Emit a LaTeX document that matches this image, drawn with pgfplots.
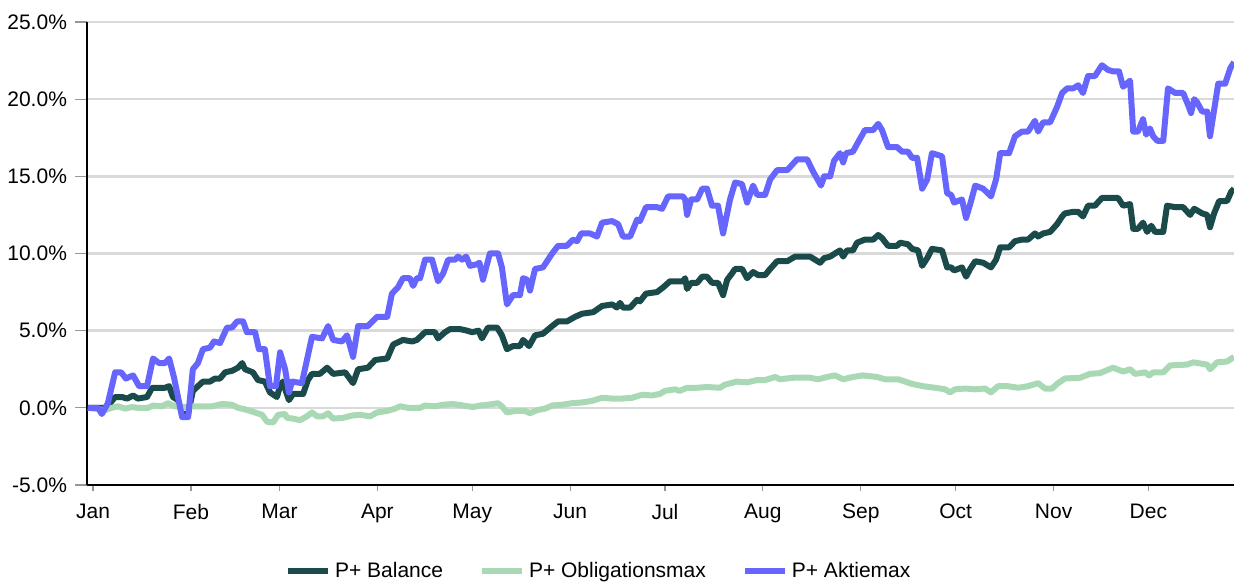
\documentclass[border=0pt]{standalone}
\usepackage{fontspec}
\setmainfont{Liberation Sans}
\usepackage{pgfplots}
\usepackage{pgfplotstable}
\pgfplotsset{compat=1.18}
\definecolor{cBal}{RGB}{26,74,74}
\definecolor{cObl}{RGB}{168,216,180}
\definecolor{cAkt}{RGB}{102,102,255}
\definecolor{cGrid}{RGB}{217,217,217}
\definecolor{cTick}{RGB}{150,150,150}

\pgfplotstableread{
day val
-1.6 0
3.8 0
5.4 0.3
7.0 0.7
9.2 0.7
10.8 0.6
12.7 0.8
14.2 0.6
17.1 0.7
18.7 1.3
22.8 1.3
24.1 1.4
25.3 0.7
26.9 0.5
28.2 -0.4
30.1 -0.4
31.6 1.1
33.2 1.4
34.8 1.7
37.0 1.7
38.6 1.9
40.2 1.9
41.8 2.3
44.0 2.4
45.9 2.6
47.2 2.9
48.1 2.5
50.6 2.3
52.2 1.8
54.4 1.7
56.0 1.0
58.2 0.7
58.9 1.2
60.0 1.7
62.0 0.5
63.3 0.9
66.5 0.9
68.0 1.8
69.3 2.2
71.8 2.2
74.1 2.6
76.0 2.2
79.8 2.3
82.3 1.6
83.9 2.5
87.0 2.6
89.3 3.1
93.1 3.2
95.0 4.1
98.1 4.4
101.0 4.3
102.5 4.4
105.1 4.9
108.2 4.9
109.2 4.5
111.4 4.9
113.0 5.1
116.2 5.1
118.4 5.0
120.0 4.9
122.0 5.0
123.1 4.5
125.0 5.2
127.9 5.2
129.4 4.7
131.0 3.8
132.9 4.0
135.1 4.0
136.1 4.4
138.0 4.0
139.9 4.7
142.4 4.8
145.3 5.3
147.2 5.6
150.0 5.6
152.6 5.9
154.8 6.1
158.3 6.2
161.1 6.6
164.3 6.7
165.8 6.5
166.8 6.8
167.7 6.5
170.0 6.5
172.2 7.0
173.1 6.9
175.0 7.4
178.5 7.5
180.4 7.8
182.6 8.2
186.7 8.2
187.4 8.4
188.0 7.7
189.3 8.1
191.2 8.1
192.8 8.5
194.3 8.5
195.9 8.1
197.8 8.1
199.4 7.3
200.7 8.3
202.2 8.7
203.2 9.0
205.4 9.0
207.0 8.4
208.9 8.8
210.5 8.6
212.7 8.6
214.3 9.0
216.5 9.5
219.7 9.5
222.2 9.8
226.9 9.8
228.5 9.6
230.1 9.4
231.4 9.7
233.3 9.8
234.8 10.0
236.4 10.2
237.4 9.8
238.6 10.2
240.5 10.2
241.8 10.7
244.3 10.9
246.9 10.9
248.5 11.2
249.7 11.0
251.6 10.5
254.5 10.5
255.4 10.7
257.9 10.6
259.2 10.3
261.1 10.2
262.4 9.2
264.0 9.7
265.5 10.3
268.7 10.2
270.3 9.1
271.6 9.1
272.5 8.9
275.0 9.1
276.3 8.5
277.6 9.0
279.2 9.5
281.7 9.4
284.2 9.1
285.8 9.6
287.1 10.4
289.9 10.4
291.8 10.8
294.0 10.9
295.9 10.9
298.1 11.3
299.1 11.1
300.7 11.3
302.9 11.4
305.1 11.9
306.7 12.4
307.6 12.6
310.2 12.7
311.8 12.7
313.3 12.4
314.9 13.1
317.1 13.1
319.3 13.6
324.4 13.6
326.0 13.1
328.2 13.2
329.2 11.6
330.7 11.6
332.3 12.0
333.6 11.4
334.9 11.8
336.1 11.4
338.7 11.4
339.9 13.1
342.5 13.0
345.0 13.0
347.2 12.5
348.5 12.9
351.0 12.6
352.6 12.5
353.5 11.7
354.8 12.6
356.4 13.4
358.9 13.4
360.2 14.0
361.1 14.2
}\balance

\pgfplotstableread{
day val
-1.6 0
3.8 -0.15
6.0 0
7.9 0.1
10.1 -0.05
12.3 0.05
14.2 0
17.4 0
19.0 0.15
21.8 0.1
23.7 0.3
26.0 0.1
29.1 0.05
32.3 0.1
37.7 0.1
40.8 0.25
44.0 0.2
45.9 0
48.1 -0.1
51.3 -0.3
53.5 -0.45
55.1 -0.9
57.0 -0.95
58.6 -0.45
60.8 -0.4
61.4 -0.65
63.3 -0.7
65.5 -0.8
67.7 -0.55
69.3 -0.3
70.9 -0.55
72.8 -0.55
74.4 -0.35
76.0 -0.7
79.1 -0.65
82.0 -0.5
84.5 -0.45
87.7 -0.55
89.9 -0.3
93.1 -0.2
95.6 -0.05
97.2 0.1
99.7 0
103.5 0
105.1 0.15
108.2 0.1
110.8 0.2
113.9 0.25
117.1 0.15
120.3 0.05
122.5 0.15
125.0 0.2
128.2 0.3
129.4 0.1
131.0 -0.3
133.6 -0.2
136.7 -0.2
138.3 -0.35
140.5 -0.15
143.1 -0.05
145.3 0.15
148.4 0.2
151.6 0.3
154.8 0.35
157.9 0.45
161.1 0.65
164.3 0.6
167.4 0.6
170.6 0.65
173.8 0.85
176.9 0.8
179.4 0.9
181.0 1.1
184.2 1.2
185.7 1.1
188.0 1.3
191.2 1.3
194.3 1.35
198.4 1.3
200.0 1.5
203.8 1.7
207.0 1.65
210.2 1.8
212.7 1.8
215.9 2.0
217.4 1.85
221.6 1.95
226.9 1.95
229.5 1.85
232.3 2.0
234.8 2.1
237.4 1.85
240.5 2.0
243.7 2.1
245.9 2.05
248.1 2.0
250.7 1.85
254.8 1.85
259.2 1.55
262.7 1.4
266.5 1.3
269.7 1.2
271.2 1.0
272.8 1.2
276.0 1.25
279.2 1.2
282.3 1.25
284.2 1.0
286.4 1.4
289.6 1.4
292.8 1.3
295.9 1.4
299.1 1.6
301.3 1.25
303.5 1.25
305.4 1.6
307.6 1.9
312.4 1.95
315.5 2.2
318.7 2.25
322.8 2.6
326.0 2.35
328.2 2.5
329.8 2.2
333.0 2.3
334.2 2.1
335.5 2.3
338.7 2.3
340.9 2.75
346.2 2.8
348.2 2.95
352.6 2.8
353.5 2.5
355.7 2.95
358.9 3.0
361.1 3.3
}\oblig

\pgfplotstableread{
day val
-1.6 0.0
1.6 0.0
2.8 -0.4
4.7 0.3
7.0 2.3
8.9 2.3
10.4 1.9
12.7 2.1
14.6 1.4
17.1 1.4
19.0 3.2
20.9 2.9
22.8 2.9
24.1 3.2
25.6 2.0
26.9 0.7
28.2 -0.6
30.1 -0.6
31.6 2.5
33.2 2.9
34.8 3.8
37.0 3.9
38.3 4.3
40.2 4.2
42.4 5.2
44.0 5.2
45.6 5.6
47.5 5.6
48.7 4.9
51.3 4.9
52.5 3.8
54.4 3.8
56.0 1.4
57.9 1.4
59.2 3.6
60.8 2.5
62.0 1.0
63.0 1.7
66.1 1.6
67.7 3.1
69.3 4.6
72.5 4.5
74.4 5.3
76.0 4.4
78.8 4.3
80.4 4.7
82.3 3.3
83.9 5.3
87.0 5.3
89.9 5.9
93.1 5.9
94.6 7.4
96.5 7.8
98.1 8.4
100.3 8.4
101.3 7.9
102.5 8.4
103.5 8.4
105.1 9.6
107.3 9.6
109.2 8.2
110.8 8.7
112.4 9.6
114.6 9.6
115.5 9.8
116.8 9.6
118.1 9.8
119.3 9.2
121.5 9.3
122.3 9.4
123.4 8.3
125.6 10.0
128.2 10.0
129.4 9.1
131.0 6.7
132.9 7.3
135.1 7.3
136.1 8.4
137.4 8.3
138.3 7.6
139.9 9.0
142.4 9.1
145.3 10.0
147.2 10.5
150.0 10.5
151.9 10.9
153.2 10.8
154.5 11.3
157.3 11.3
159.5 11.1
161.1 12.0
164.3 12.1
166.2 11.9
167.7 11.1
170.0 11.1
172.2 12.2
173.1 12.1
175.0 13.0
178.5 13.0
180.1 12.9
182.0 13.7
186.7 13.7
187.4 13.5
188.0 12.5
189.3 13.5
191.2 13.5
192.8 14.2
194.3 14.2
195.9 13.1
197.8 13.1
199.4 11.3
200.7 12.6
201.6 13.5
203.2 14.6
205.4 14.5
207.0 13.3
208.9 14.4
210.2 13.8
212.7 13.8
214.3 14.8
216.5 15.4
219.7 15.4
222.8 16.1
226.0 16.1
227.9 15.3
230.4 14.4
231.4 15.0
233.3 15.0
234.5 16.0
236.4 16.5
237.4 15.9
238.3 16.5
240.5 16.6
242.1 17.2
244.3 18.0
246.9 18.0
248.5 18.4
249.7 18.0
251.6 16.9
254.5 16.9
256.0 16.6
257.9 16.6
259.2 16.2
260.8 16.2
262.4 14.2
264.0 14.8
265.5 16.5
268.7 16.3
270.3 13.9
271.6 13.8
272.5 13.3
275.0 13.5
276.3 12.3
277.6 13.2
279.2 14.4
281.7 14.2
284.2 13.7
285.8 14.8
287.1 16.5
289.9 16.5
291.8 17.6
294.0 17.9
295.9 17.9
298.1 18.6
299.1 17.9
300.7 18.5
302.9 18.5
305.1 19.5
306.7 20.4
308.3 20.7
310.2 20.7
311.8 20.9
313.3 20.4
314.9 21.5
317.1 21.5
319.3 22.2
321.2 21.9
322.8 21.8
324.7 21.8
326.0 20.8
328.2 21.2
329.2 17.9
330.7 17.9
332.3 18.7
333.3 17.7
334.5 18.1
335.5 17.6
336.8 17.3
338.7 17.3
340.2 20.7
342.5 20.4
345.0 20.4
346.6 19.6
347.5 19.1
348.5 20.0
349.4 19.8
351.0 19.2
352.6 19.2
353.5 17.6
354.8 19.3
356.1 21.0
358.3 21.0
359.9 22.0
361.1 22.4
}\aktie

\begin{document}
\begin{tikzpicture}
\begin{axis}[
  at={(0,0)}, anchor=south west,
  scale only axis,
  width=573.5pt, height=231.5pt,
  xmin=-1.9, xmax=361.1,
  ymin=-5, ymax=25,
  axis x line*=bottom, axis y line*=left,
  axis line style={black, line width=1.1pt},
  xtick={0,31,59,90,120,151,181,212,243,273,304,334},
  xticklabels={Jan,Feb,Mar,Apr,May,Jun,Jul,Aug,Sep,Oct,Nov,Dec},
  ytick={-5,0,5,10,15,20,25},
  yticklabels={-5.0\%,0.0\%,5.0\%,10.0\%,15.0\%,20.0\%,25.0\%},
  tick align=outside,
  major tick length=4pt,
  tick style={cTick, line width=0.6pt},
  xtick style={/pgfplots/major tick length=3pt},
  ytick style={/pgfplots/major tick length=6pt},
  ymajorgrids,
  grid style={cGrid, line width=1.2pt},
  every tick label/.append style={font=\fontsize{10.5}{12}\selectfont, text=black},
  xticklabel style={yshift=-2pt},
  yticklabel style={xshift=-2.5pt},
  /pgf/number format/assume math mode=true,
  legend columns=3,
  legend style={draw=none, fill=none, at={(0.447,-0.186)}, anchor=center,
    font=\fontsize{10.5}{12}\selectfont,
    /tikz/every even column/.append style={column sep=16pt}},
  legend image code/.code={\draw[#1] (0pt,0pt) -- (20pt,0pt);},
]
\addplot[cBal, line width=3pt, line join=round] table[x=day,y=val] {\balance};
\addlegendentry{P+ Balance}
\addplot[cObl, line width=3pt, line join=round] table[x=day,y=val] {\oblig};
\addlegendentry{P+ Obligationsmax}
\addplot[cAkt, line width=3pt, line join=round] table[x=day,y=val] {\aktie};
\addlegendentry{P+ Aktiemax}
\end{axis}
\pgfresetboundingbox
\path (-43.5pt,-48.5pt) rectangle (573.5pt,242.5pt);
\end{tikzpicture}
\end{document}
